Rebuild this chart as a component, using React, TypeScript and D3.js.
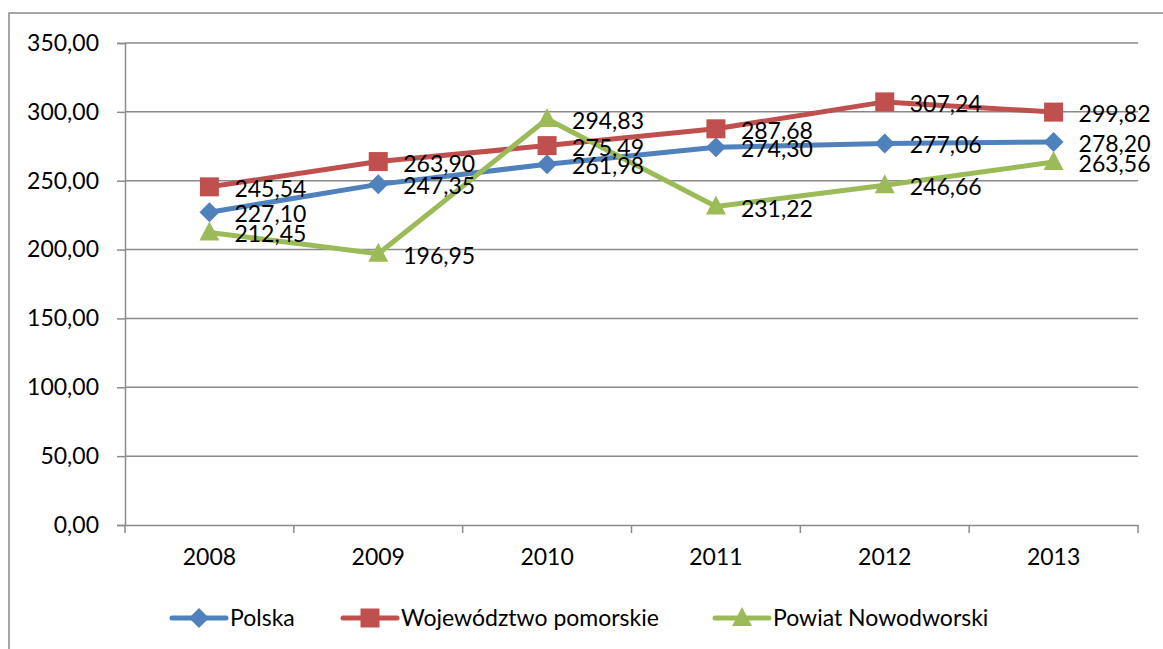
import React, { useEffect, useRef } from "react";
import * as d3 from "d3";

const years = ["2008", "2009", "2010", "2011", "2012", "2013"];
const polska = [227.1, 247.35, 261.98, 274.3, 277.06, 278.2];
const pomorskie = [245.54, 263.9, 275.49, 287.68, 307.24, 299.82];
const nowodworski = [212.45, 196.95, 294.83, 231.22, 246.66, 263.56];
const yTicks = [0, 50, 100, 150, 200, 250, 300, 350];

const seriesList = [
  { name: "Polska", values: polska, color: "#4F81BD", marker: "diamond" },
  { name: "Województwo pomorskie", values: pomorskie, color: "#C0504D", marker: "square" },
  { name: "Powiat Nowodworski", values: nowodworski, color: "#9BBB59", marker: "triangle" },
];

const W = 1163;
const H = 649;
const FONT = "Lato, 'Open Sans', sans-serif";

function fmt(v: number) {
  return v.toFixed(2).replace(".", ",");
}

export default function App() {
  const svgRef = useRef<SVGSVGElement>(null);

  useEffect(() => {
    const svg = d3.select(svgRef.current);
    svg.selectAll("*").remove();

    const plot = { left: 125, right: 1138, top: 43, bottom: 525 };

    const x = d3.scaleBand<string>().domain(years).range([plot.left, plot.right]);
    const y = d3.scaleLinear().domain([0, 350]).range([plot.bottom, plot.top]);
    const cx = (d: string) => x(d)! + x.bandwidth() / 2;

    svg.append("rect")
      .attr("width", W).attr("height", H).attr("fill", "#fff");

    // ramka wykresu
    svg.append("rect")
      .attr("x", 9).attr("y", 13)
      .attr("width", W + 20).attr("height", H + 20)
      .attr("fill", "none").attr("stroke", "#8a8a8a").attr("stroke-width", 1.5);

    // linie siatki
    svg.append("g")
      .selectAll("line")
      .data(yTicks.filter((t) => t > 0))
      .enter()
      .append("line")
      .attr("x1", plot.left).attr("x2", plot.right)
      .attr("y1", (d) => y(d)).attr("y2", (d) => y(d))
      .attr("stroke", "#8a8a8a").attr("stroke-width", 1.5);

    // oś Y
    const yAxis = svg.append("g")
      .attr("transform", `translate(${plot.left},0)`)
      .call(d3.axisLeft(y).tickValues(yTicks).tickSize(8).tickPadding(18).tickFormat((d) => fmt(d as number)));
    yAxis.select(".domain").attr("stroke", "#8a8a8a").attr("stroke-width", 1.5);
    yAxis.selectAll(".tick line").attr("stroke", "#8a8a8a").attr("stroke-width", 1.5);
    yAxis.selectAll("text")
      .attr("font-family", FONT).attr("font-size", 23).attr("fill", "#000");

    // oś X
    const xAxis = svg.append("g")
      .attr("transform", `translate(0,${plot.bottom})`)
      .call(d3.axisBottom(x).tickSize(0).tickPadding(24));
    xAxis.select(".domain").attr("stroke", "#8a8a8a").attr("stroke-width", 1.5);
    xAxis.selectAll("text")
      .attr("font-family", FONT).attr("font-size", 23).attr("fill", "#000");
    svg.append("g")
      .selectAll("line")
      .data(d3.range(years.length + 1))
      .enter()
      .append("line")
      .attr("x1", (i) => plot.left + i * x.step())
      .attr("x2", (i) => plot.left + i * x.step())
      .attr("y1", plot.bottom).attr("y2", plot.bottom + 8)
      .attr("stroke", "#8a8a8a").attr("stroke-width", 1.5);

    const drawMarker = (g: any, kind: string, px: number, py: number, color: string) => {
      if (kind === "diamond") {
        g.append("path")
          .attr("d", `M${px},${py - 10}L${px + 10},${py}L${px},${py + 10}L${px - 10},${py}Z`)
          .attr("fill", color);
      } else if (kind === "square") {
        g.append("rect")
          .attr("x", px - 9.5).attr("y", py - 9.5)
          .attr("width", 19).attr("height", 19)
          .attr("fill", color);
      } else {
        g.append("path")
          .attr("d", `M${px},${py - 11}L${px + 10},${py + 8}L${px - 10},${py + 8}Z`)
          .attr("fill", color);
      }
    };

    const line = d3.line<number>()
      .x((_, i) => cx(years[i]))
      .y((d) => y(d));

    seriesList.forEach((s) => {
      const g = svg.append("g");
      g.append("path")
        .datum(s.values)
        .attr("d", line)
        .attr("fill", "none")
        .attr("stroke", s.color)
        .attr("stroke-width", 5)
        .attr("stroke-linejoin", "round")
        .attr("stroke-linecap", "round");
      s.values.forEach((v, i) => drawMarker(g, s.marker, cx(years[i]), y(v), s.color));
    });

    // etykiety danych
    seriesList.forEach((s) => {
      svg.append("g")
        .selectAll("text")
        .data(s.values)
        .enter()
        .append("text")
        .attr("x", (_, i) => cx(years[i]) + 25)
        .attr("y", (d) => y(d) + 2)
        .attr("dy", "0.35em")
        .attr("font-family", FONT)
        .attr("font-size", 23)
        .attr("fill", "#000")
        .text((d) => fmt(d));
    });

    // legenda
    const legendX = [172, 343, 715];
    const legendY = 618;
    seriesList.forEach((s, i) => {
      const g = svg.append("g");
      const lx = legendX[i];
      g.append("line")
        .attr("x1", lx).attr("x2", lx + 54)
        .attr("y1", legendY).attr("y2", legendY)
        .attr("stroke", s.color).attr("stroke-width", 5).attr("stroke-linecap", "round");
      drawMarker(g, s.marker, lx + 27, legendY, s.color);
      g.append("text")
        .attr("x", lx + 58).attr("y", legendY)
        .attr("dy", "0.35em")
        .attr("font-family", FONT).attr("font-size", 23).attr("fill", "#000")
        .text(s.name);
    });
  }, []);

  return (
    <svg
      ref={svgRef}
      width={W}
      height={H}
      style={{ position: "absolute", left: 0, top: 0 }}
    />
  );
}
